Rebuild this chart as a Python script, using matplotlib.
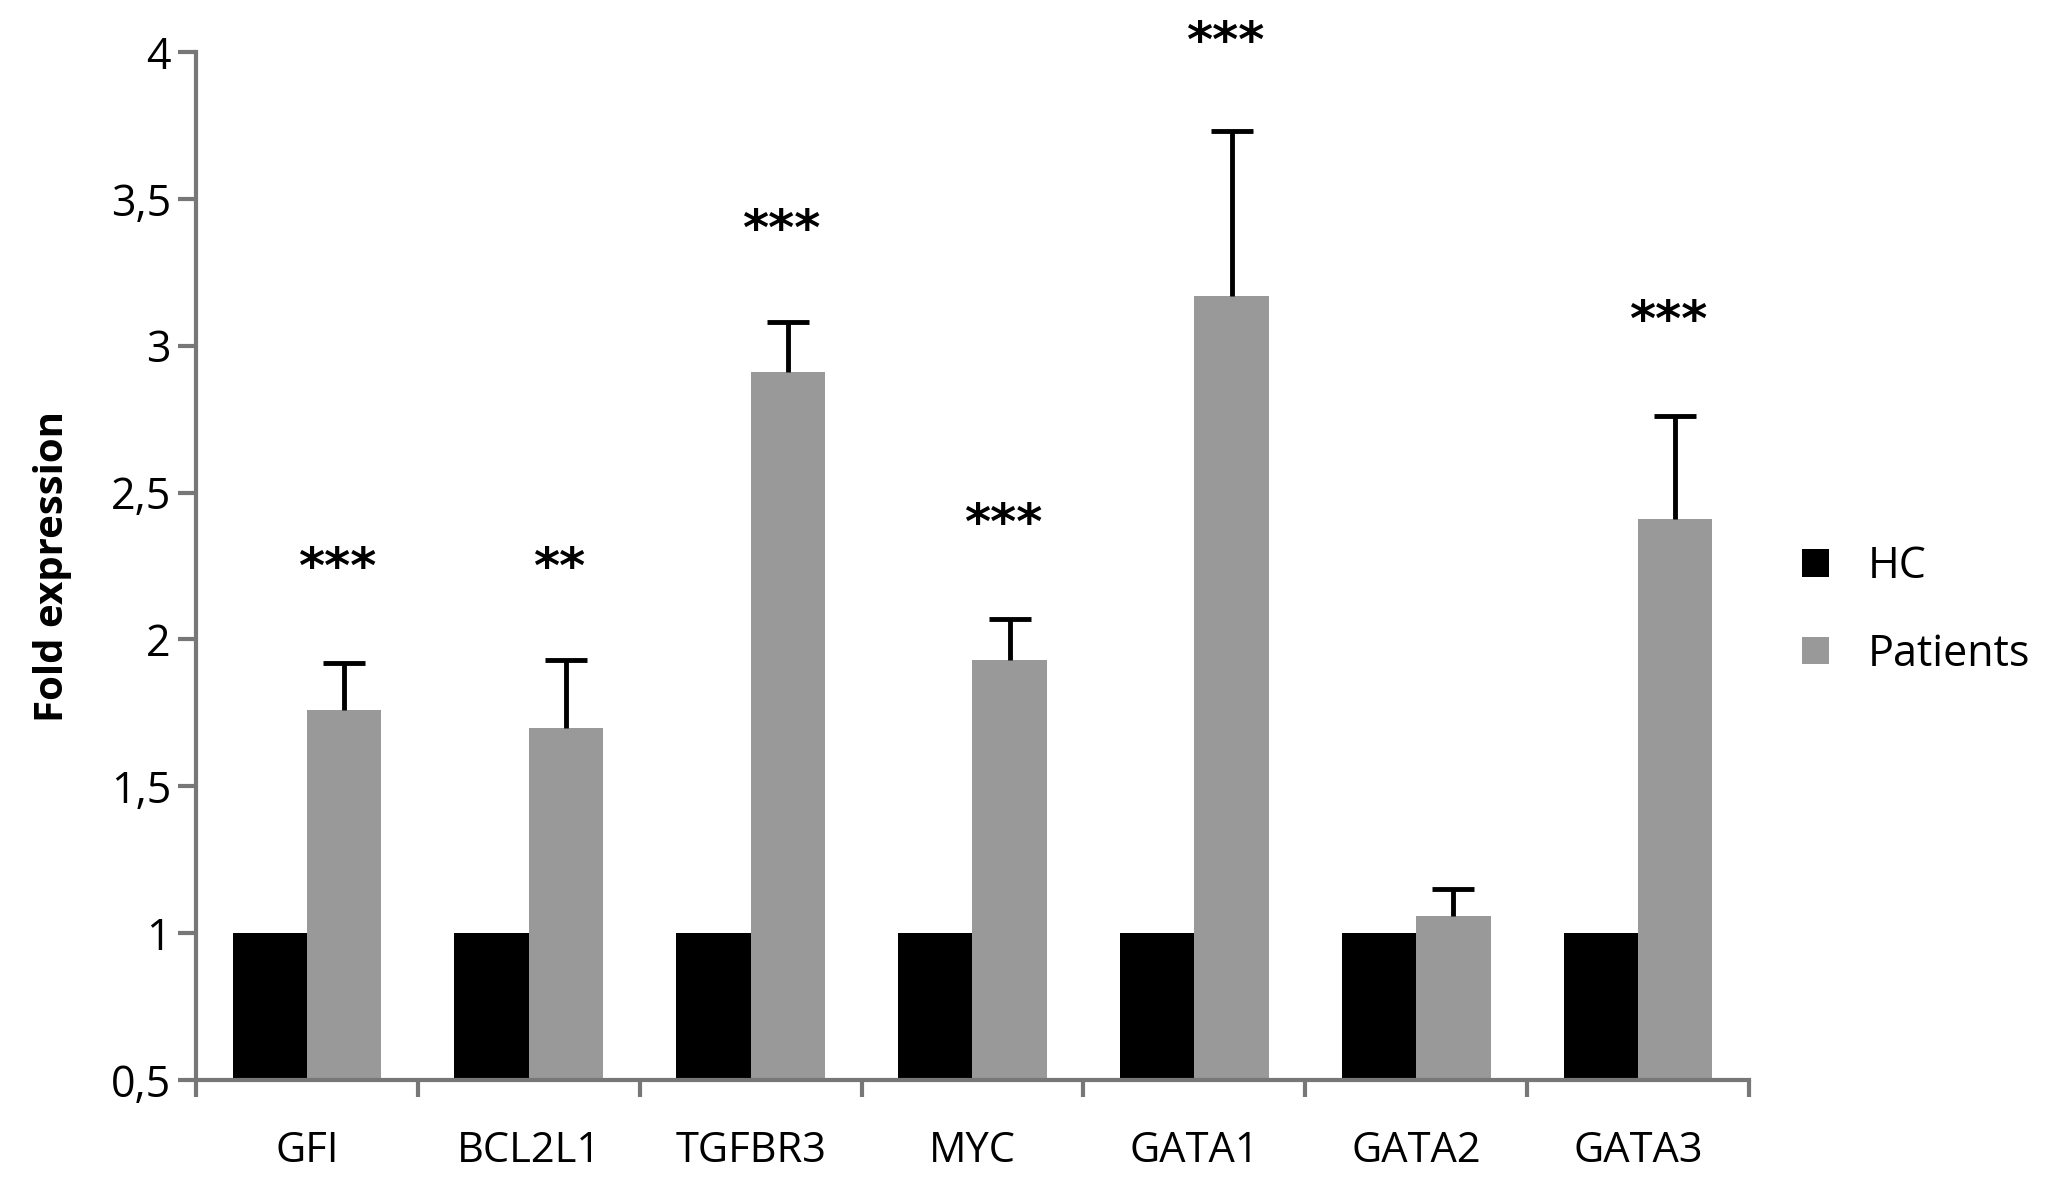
import matplotlib
matplotlib.use("Agg")
import matplotlib.pyplot as plt
import numpy as np
from matplotlib.patches import Patch

genes = ["GFI", "BCL2L1", "TGFBR3", "MYC", "GATA1", "GATA2", "GATA3"]
hc_values = [1.0, 1.0, 1.0, 1.0, 1.0, 1.0, 1.0]
patient_values = [1.76, 1.70, 2.91, 1.93, 3.17, 1.06, 2.41]
patient_err = [0.16, 0.23, 0.17, 0.14, 0.56, 0.09, 0.35]
significance = ["***", "**", "***", "***", "***", "", "***"]
sig_y = [2.24, 2.24, 3.39, 2.39, 4.03, None, 3.08]
yticks = [0.5, 1, 1.5, 2, 2.5, 3, 3.5, 4]
ytick_labels = ["0,5", "1", "1,5", "2", "2,5", "3", "3,5", "4"]

font = ["Open Sans", "DejaVu Sans"]
plt.rcParams['font.family'] = font

fig = plt.figure(figsize=(20.48, 11.95), dpi=100)
ax = fig.add_axes([0.0957, 0.0962, 0.7583, 0.8603])

x = np.arange(len(genes)) + 0.5
w = 0.335
base = 0.5
hc_h = [v - base for v in hc_values]
pt_h = [v - base for v in patient_values]

ax.bar(x - w / 2, hc_h, w, bottom=base, color="black", label="HC", zorder=2)
ax.bar(x + w / 2, pt_h, w, bottom=base, color="#999999", label="Patients", zorder=2)
eb = ax.errorbar(x + w / 2, patient_values, yerr=[np.zeros(len(genes)), patient_err],
                 fmt="none", ecolor="black", elinewidth=3.5, capsize=15, capthick=3.5, zorder=3)
# keep only the upper caps
for cl in eb[1]:
    if np.allclose(np.asarray(cl.get_ydata(), dtype=float), patient_values):
        cl.set_visible(False)

for xi, s, yy in zip(x, significance, sig_y):
    if s and yy is not None:
        ax.text(xi + w / 2 - 0.03, yy, s, ha="center", va="center", fontsize=36,
                fontweight="bold", color="black", family=["DejaVu Sans"], clip_on=False)

ax.set_xlim(0, len(genes))
ax.set_ylim(0.5, 4)
ax.set_yticks(yticks)
ax.set_yticklabels(ytick_labels, fontsize=31)
ax.set_xticks(np.arange(len(genes) + 1))
ax.set_xticklabels([])
ax.set_xticks(x, minor=True)
ax.set_xticklabels(genes, minor=True, fontsize=30)
ax.tick_params(axis="x", which="minor", length=0, pad=36)
ax.tick_params(axis="x", which="major", length=12, width=3, color="#777777", direction="out")
ax.tick_params(axis="y", length=13, width=3, color="#777777", direction="out", pad=5)

for sp in ["top", "right"]:
    ax.spines[sp].set_visible(False)
for sp in ["left", "bottom"]:
    ax.spines[sp].set_color("#777777")
    ax.spines[sp].set_linewidth(3)

ax.set_ylabel("Fold expression", fontsize=29, fontweight="bold",
              family=["Liberation Sans Narrow", "Open Sans", "DejaVu Sans"])
ax.yaxis.set_label_coords(-0.080, 0.5)

handles = [Patch(facecolor="black", label="HC"), Patch(facecolor="#999999", label="Patients")]
fig.legend(handles=handles, loc="center left", bbox_to_anchor=(0.861, 0.489),
           frameon=False, fontsize=31, handlelength=0.62, handleheight=0.62,
           handletextpad=0.9, labelspacing=1.0)

fig.savefig("out.png", dpi=100)
